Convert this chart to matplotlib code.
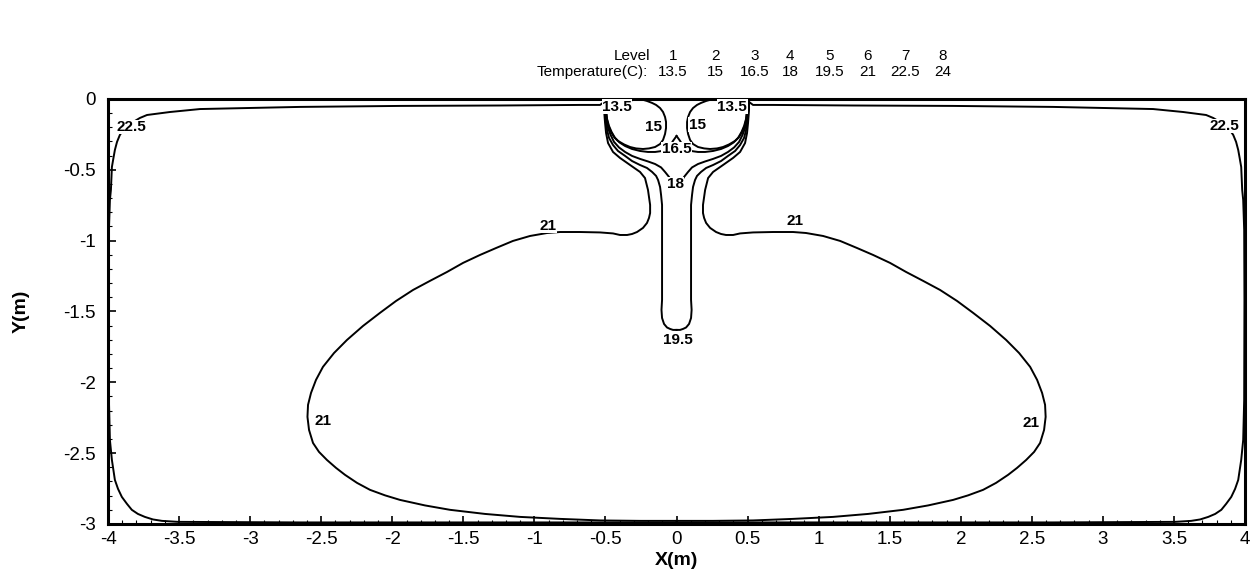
import numpy as np
import matplotlib.pyplot as plt
from matplotlib.ticker import MultipleLocator, FuncFormatter

plt.rcParams['font.family'] = ['Liberation Sans', 'DejaVu Sans']
plt.rcParams['axes.unicode_minus'] = False

# legend table
levels = [1, 2, 3, 4, 5, 6, 7, 8]
temps = ['13.5', '15', '16.5', '18', '19.5', '21', '22.5', '24']

# contour lines, left half only (x<=0); right half is the mirror image
c225_x = [0, -1.242, -2.650, -3.508, -3.621, -3.684, -3.741, -3.790, -3.833, -3.867, -3.903,
          -3.930, -3.952, -3.973, -3.987, -3.994, -3.996, -3.994, -3.987, -3.980, -3.973,
          -3.962, -3.952, -3.937, -3.917, -3.888, -3.846, -3.776, -3.726, -3.565, -3.353,
          -2.650, -1.946, -1.242, -0.679, -0.538, -0.510, -0.503]
c225_y = [-2.989, -2.989, -2.989, -2.985, -2.978, -2.968, -2.950, -2.929, -2.900, -2.858, -2.809,
          -2.752, -2.689, -2.548, -2.407, -2.124, -1.419, -0.924, -0.713, -0.642, -0.480,
          -0.416, -0.360, -0.303, -0.254, -0.212, -0.176, -0.134, -0.113, -0.092, -0.071,
          -0.056, -0.049, -0.046, -0.042, -0.042, -0.021, -0.004]

c21_x = [-0.510, -0.510, -0.503, -0.496, -0.482, -0.447, -0.398, -0.327, -0.257, -0.222,
         -0.201, -0.186, -0.186, -0.194, -0.208, -0.236, -0.278, -0.313, -0.348, -0.398,
         -0.447, -0.538, -0.679, -0.820, -0.911, -1.031, -1.151, -1.270, -1.383, -1.502,
         -1.615, -1.735, -1.854, -1.974, -2.087, -2.206, -2.319, -2.410, -2.488, -2.537,
         -2.572, -2.593, -2.597, -2.586, -2.558, -2.516, -2.460, -2.396, -2.333, -2.248,
         -2.157, -2.051, -1.946, -1.770, -1.594, -1.348, -1.101, -0.820, -0.538, -0.257, 0]
c21_y = [-0.007, -0.078, -0.169, -0.240, -0.311, -0.374, -0.416, -0.466, -0.515, -0.558,
         -0.642, -0.748, -0.805, -0.840, -0.875, -0.910, -0.939, -0.953, -0.960, -0.960,
         -0.949, -0.942, -0.939, -0.939, -0.946, -0.967, -1.002, -1.052, -1.101, -1.157,
         -1.221, -1.284, -1.348, -1.426, -1.510, -1.602, -1.701, -1.793, -1.891, -1.983,
         -2.075, -2.159, -2.244, -2.336, -2.428, -2.491, -2.548, -2.604, -2.653, -2.710,
         -2.759, -2.798, -2.830, -2.869, -2.900, -2.929, -2.950, -2.964, -2.975, -2.978, -2.978]

c195_x = [-0.503, -0.503, -0.496, -0.489, -0.475, -0.447, -0.412, -0.362, -0.313, -0.257,
          -0.208, -0.172, -0.144, -0.130, -0.116, -0.109, -0.102, -0.102, -0.102, -0.106,
          -0.102, -0.088, -0.067, -0.046, -0.025, 0]
c195_y = [-0.007, -0.113, -0.169, -0.219, -0.275, -0.325, -0.367, -0.402, -0.438, -0.466,
          -0.487, -0.515, -0.543, -0.572, -0.621, -0.677, -0.748, -0.854, -1.418, -1.489,
          -1.546, -1.588, -1.613, -1.623, -1.630, -1.630]

c18_x = [-0.503, -0.500, -0.493, -0.482, -0.464, -0.440, -0.405, -0.362, -0.313, -0.257,
         -0.201, -0.151, -0.109, -0.081, -0.053, -0.032, 0]
c18_y = [-0.007, -0.099, -0.155, -0.205, -0.254, -0.303, -0.342, -0.374, -0.402, -0.423,
         -0.441, -0.459, -0.483, -0.515, -0.550, -0.586, -0.614]

c165_x = [-0.496, -0.496, -0.489, -0.475, -0.457, -0.433, -0.401, -0.362, -0.313, -0.257,
          -0.201, -0.151, -0.102, -0.060, -0.025, 0]
c165_y = [-0.007, -0.092, -0.141, -0.191, -0.233, -0.275, -0.307, -0.332, -0.353, -0.367,
          -0.374, -0.374, -0.367, -0.353, -0.296, -0.261]

c15_x = [-0.243, -0.208, -0.172, -0.144, -0.116, -0.095, -0.081, -0.074, -0.074, -0.081,
         -0.095, -0.116, -0.151, -0.194, -0.236, -0.285, -0.327, -0.369, -0.412, -0.440,
         -0.461, -0.479, -0.489, -0.493, -0.493, -0.489]
c15_y = [-0.004, -0.014, -0.028, -0.042, -0.064, -0.092, -0.127, -0.162, -0.205, -0.247,
         -0.289, -0.318, -0.339, -0.349, -0.353, -0.349, -0.339, -0.321, -0.296, -0.268,
         -0.233, -0.191, -0.148, -0.106, -0.064, -0.007]

c135_x = [-0.475, -0.461, -0.405, -0.334, -0.313]
c135_y = [-0.004, -0.035, -0.064, -0.042, -0.004]

# contour labels
lab_text = ['22.5', '22.5', '21', '21', '21', '21', '19.5', '18', '16.5', '15', '15', '13.5', '13.5']
lab_x = [-3.839, 3.854, -0.904, 0.834, -2.490, 2.495, 0.01, -0.01, 0.0, -0.165, 0.144, -0.419, 0.392]
lab_y = [-0.198, -0.191, -0.896, -0.861, -2.272, -2.287, -1.700, -0.600, -0.353, -0.198, -0.183, -0.056, -0.056]

fig = plt.figure(figsize=(12.58, 5.85), dpi=100)
ax = fig.add_axes([0.0859, 0.1043, 0.9038, 0.7265])

for cx, cy in [(c225_x, c225_y), (c21_x, c21_y), (c195_x, c195_y), (c18_x, c18_y),
               (c165_x, c165_y), (c15_x, c15_y), (c135_x, c135_y)]:
    cx = np.array(cx)
    ax.plot(cx, cy, color='black', lw=1.4, zorder=2, solid_joinstyle='round')
    ax.plot(-cx, cy, color='black', lw=1.4, zorder=2, solid_joinstyle='round')

for t, x, y in zip(lab_text, lab_x, lab_y):
    ax.text(x, y, t, ha='center', va='center', fontsize=11, fontweight='bold', zorder=3,
            bbox=dict(facecolor='white', edgecolor='none', pad=0.3))

ax.set_xlim(-4, 4)
ax.set_ylim(-3, 0)
ax.xaxis.set_major_locator(MultipleLocator(0.5))
ax.yaxis.set_major_locator(MultipleLocator(0.5))
ax.xaxis.set_minor_locator(MultipleLocator(0.1))
ax.yaxis.set_minor_locator(MultipleLocator(0.1))
fmt = FuncFormatter(lambda v, p: '%g' % (0 if abs(v) < 1e-9 else v))
ax.xaxis.set_major_formatter(fmt)
ax.yaxis.set_major_formatter(fmt)
ax.tick_params(which='major', direction='in', length=6, width=1.2, labelsize=13.5, pad=5)
ax.tick_params(which='minor', direction='in', length=3, width=0.8)
ax.tick_params(axis='y', pad=9)
for s in ax.spines.values():
    s.set_linewidth(2.2)

ax.set_xlabel('X(m)', fontsize=14, fontweight='bold', labelpad=3)
ax.set_ylabel('Y(m)', fontsize=14, fontweight='bold', labelpad=24)

# level table above the plot
col_x = [673, 715, 755, 790, 830, 868, 905, 943]
fig.text(650 / 1258, 1 - 56 / 585, 'Level', ha='right', va='center', fontsize=11)
fig.text(648 / 1258, 1 - 72 / 585, 'Temperature(C):', ha='right', va='center', fontsize=11)
for px, lv, tp in zip(col_x, levels, temps):
    fig.text(px / 1258, 1 - 56 / 585, str(lv), ha='center', va='center', fontsize=11)
    fig.text(px / 1258, 1 - 72 / 585, tp, ha='center', va='center', fontsize=11)

fig.savefig('out.png', dpi=100)
